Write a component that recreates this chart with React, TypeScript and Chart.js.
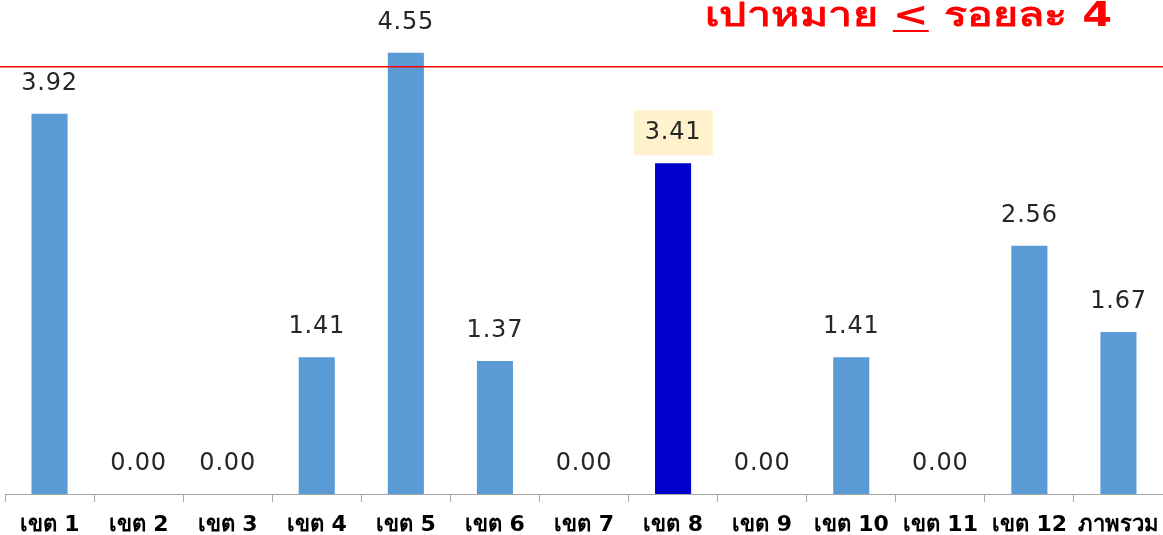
import React, { useEffect, useRef } from "react";
import { Chart, registerables } from "chart.js";

Chart.register(...registerables);

const categories = ["เขต 1", "เขต 2", "เขต 3", "เขต 4", "เขต 5", "เขต 6", "เขต 7", "เขต 8", "เขต 9", "เขต 10", "เขต 11", "เขต 12", "ภาพรวม"];
const values = [3.92, 0, 0, 1.41, 4.55, 1.37, 0, 3.41, 0, 1.41, 0, 2.56, 1.67];
const highlightIndex = 7;
const targetLineValue = 4.4;
const titleParts = ["เปาหมาย ", "<", " รอยละ 4"];

const barColor = "#5B9BD5";
const highlightColor = "#0000CC";

const overlayPlugin = {
  id: "overlay",
  afterDatasetsDraw(chart: any) {
    const { ctx } = chart;
    const y = chart.scales.y;
    const meta = chart.getDatasetMeta(0);
    ctx.save();
    // target line
    const ly = Math.round(y.getPixelForValue(targetLineValue));
    ctx.fillStyle = "#FF0000";
    ctx.fillRect(0, ly - 1, chart.width, 1.5);
    // data labels
    ctx.font = "24px 'DejaVu Sans', sans-serif";
    (ctx as any).letterSpacing = "0.8px";
    ctx.textAlign = "center";
    ctx.textBaseline = "middle";
    meta.data.forEach((bar: any, i: number) => {
      const txt = values[i].toFixed(2);
      const cy = bar.y - 30;
      if (i === highlightIndex) {
        ctx.fillStyle = "#FFF2CC";
        ctx.fillRect(bar.x - 39, cy - 23, 79, 45);
      }
      ctx.fillStyle = "#262626";
      ctx.fillText(txt, bar.x, cy);
    });
    (ctx as any).letterSpacing = "0px";
    // title
    ctx.font = "bold 33px Tahoma, 'DejaVu Sans', sans-serif";
    ctx.textAlign = "left";
    ctx.fillStyle = "#FF0000";
    const widths = titleParts.map((p) => ctx.measureText(p).width);
    const total = widths.reduce((a, b) => a + b, 0);
    const left = 705;
    const right = 1112;
    const sx = (right - left) / total;
    ctx.translate(left, 0);
    ctx.scale(sx, 1);
    let x = 0;
    const ty = 17;
    titleParts.forEach((p, i) => {
      ctx.fillText(p, x, ty);
      if (i === 1) {
        ctx.fillRect(x, 30, widths[i], 2);
      }
      x += widths[i];
    });
    ctx.restore();
  },
};

export default function App() {
  const ref = useRef<HTMLCanvasElement>(null);
  useEffect(() => {
    const chart = new Chart(ref.current!, {
      type: "bar",
      data: {
        labels: categories,
        datasets: [
          {
            data: values,
            backgroundColor: values.map((_, i) => (i === highlightIndex ? highlightColor : barColor)),
            borderWidth: 0,
            categoryPercentage: 1,
            barPercentage: 0.405,
          },
        ],
      },
      options: {
        animation: false,
        responsive: false,
        maintainAspectRatio: false,
        layout: { padding: { left: 5, right: 0, top: 9, bottom: 0 } },
        plugins: { legend: { display: false }, tooltip: { enabled: false } },
        scales: {
          x: {
            offset: true,
            grid: { display: true, drawOnChartArea: false, offset: true, tickLength: 8, color: "#A6A6A6" },
            border: { display: true, color: "#A6A6A6", width: 1 },
            ticks: {
              font: { family: "Tahoma, 'DejaVu Sans', sans-serif", size: 22, weight: "bold" },
              color: "#000000",
              padding: 10,
              maxRotation: 0,
              autoSkip: false,
            },
            afterFit: (s: any) => {
              s.height = 41;
              s.paddingLeft = 0;
              s.paddingRight = 0;
            },
          },
          y: {
            display: false,
            min: 0,
            max: 5,
          },
        },
      },
      plugins: [overlayPlugin],
    });
    return () => chart.destroy();
  }, []);
  return (
    <div style={{ position: "fixed", left: 0, top: 0, width: 1163, height: 535, background: "#fff" }}>
      <canvas ref={ref} width={1163} height={535} />
    </div>
  );
}
